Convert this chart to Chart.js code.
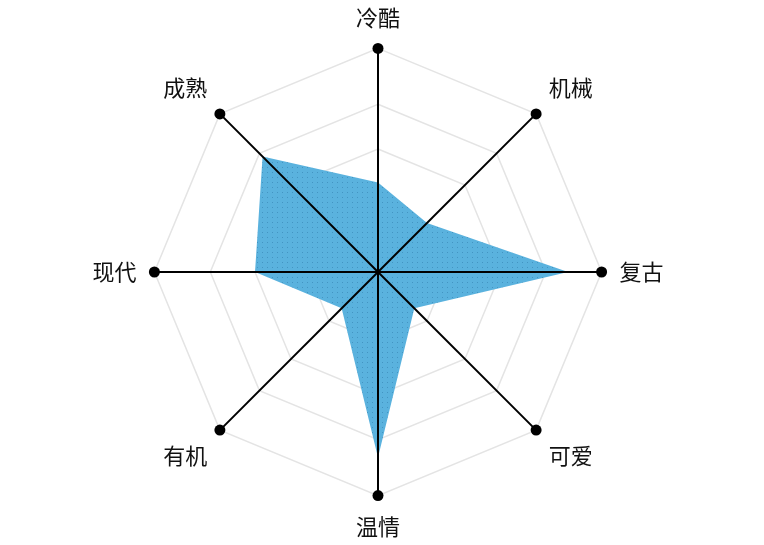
<!DOCTYPE html>
<html lang="zh">
<head>
    <meta charset="UTF-8">
    <title>雷达图</title>
    <script src="https://cdn.jsdelivr.net/npm/chart.js"></script>
    <style>
        html, body { margin: 0; padding: 0; background: #fff; }
        #wrap { width: 764px; height: 545px; }
    </style>
</head>
<body>
    <div id="wrap"><canvas id="radar"></canvas></div>
    <script>
        // 维度与数值（0-100）
        const labels = ['冷酷', '机械', '复古', '可爱', '温情', '有机', '现代', '成熟'];
        const values = [40, 31, 85, 23, 83, 23, 55, 73];
        const axisEnds = [100, 100, 100, 100, 100, 100, 100, 100];
        const gridLevels = [0, 31, 55, 75, 100];

        // 带网点的蓝色填充
        function dotPattern() {
            const c = document.createElement('canvas');
            c.width = 5; c.height = 5;
            const g = c.getContext('2d');
            g.fillStyle = '#5ab2de';
            g.fillRect(0, 0, 5, 5);
            g.fillStyle = 'rgba(40,110,160,0.45)';
            g.fillRect(2, 2, 1, 1);
            return g.createPattern(c, 'repeat');
        }

        // 黑色轴线画在填充之上
        const axisLines = {
            id: 'axisLines',
            afterDatasetsDraw(chart) {
                const s = chart.scales.r;
                const ctx = chart.ctx;
                ctx.save();
                ctx.strokeStyle = '#000';
                ctx.lineWidth = 2;
                labels.forEach((_, i) => {
                    const p = s.getPointPositionForValue(i, s.max);
                    ctx.beginPath();
                    ctx.moveTo(s.xCenter, s.yCenter);
                    ctx.lineTo(p.x, p.y);
                    ctx.stroke();
                });
                // 端点
                ctx.fillStyle = '#000';
                labels.forEach((_, i) => {
                    const p = s.getPointPositionForValue(i, axisEnds[i]);
                    ctx.beginPath();
                    ctx.arc(p.x, p.y, 5.5, 0, Math.PI * 2);
                    ctx.fill();
                });
                ctx.restore();
            }
        };

        new Chart(document.getElementById('radar'), {
            type: 'radar',
            data: {
                labels: labels,
                datasets: [{
                    data: values,
                    backgroundColor: dotPattern(),
                    borderWidth: 0,
                    pointRadius: 0,
                    fill: true
                }]
            },
            options: {
                responsive: true,
                maintainAspectRatio: false,
                animation: false,
                layout: { padding: { top: 4, bottom: 4, left: 0, right: 8 } },
                plugins: { legend: { display: false }, tooltip: { enabled: false } },
                scales: {
                    r: {
                        min: 0,
                        max: 100,
                        afterBuildTicks: s => { s.ticks = gridLevels.map(v => ({ value: v })); },
                        ticks: { display: false },
                        angleLines: { display: false },
                        grid: { circular: false, color: '#e4e4e4', lineWidth: 1.5 },
                        pointLabels: {
                            color: '#111',
                            padding: 18,
                            font: { family: '"Noto Sans CJK SC", "Noto Sans", sans-serif', size: 22 }
                        }
                    }
                }
            },
            plugins: [axisLines]
        });
    </script>
</body>
</html>
